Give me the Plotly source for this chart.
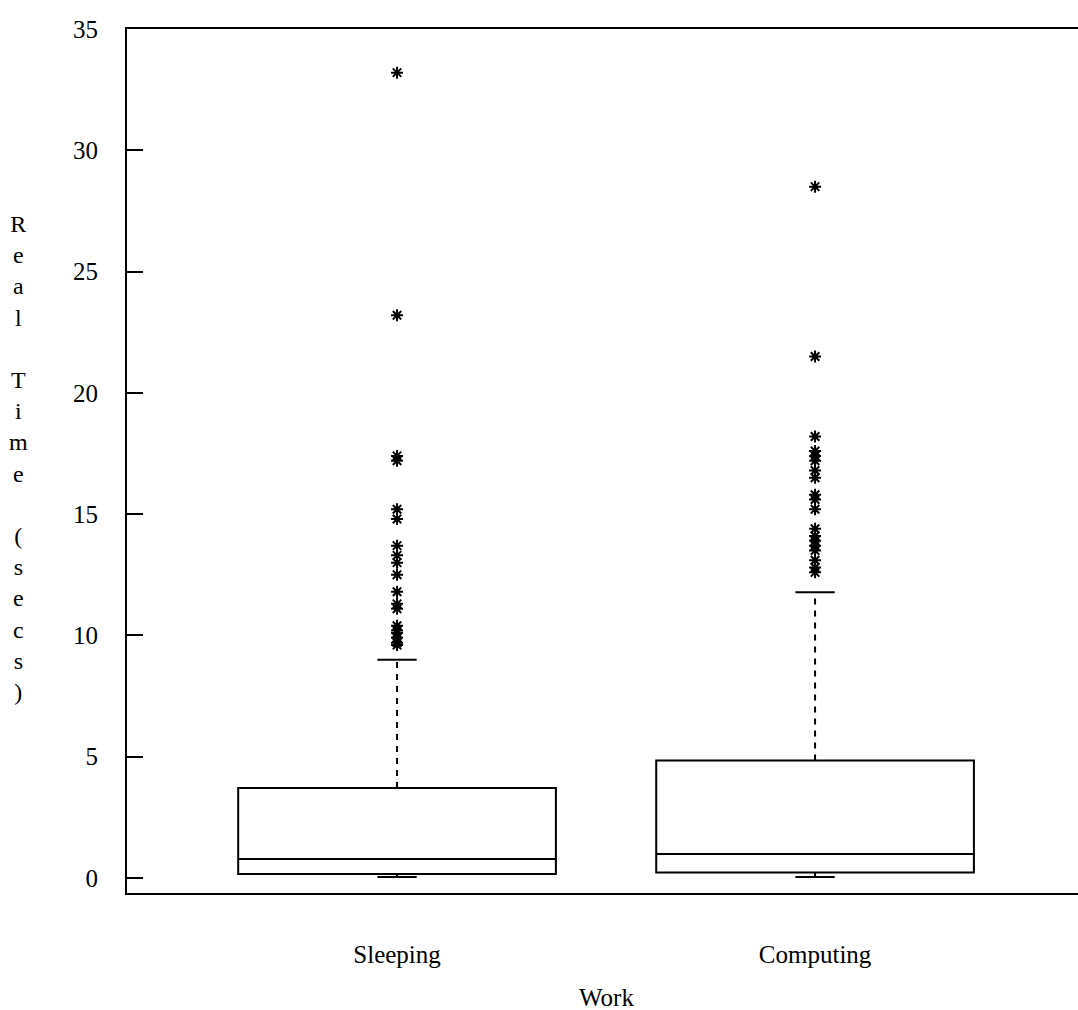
import plotly.graph_objects as go

# Response time summary by workload
categories = ["Sleeping", "Computing"]
q1 = [0.16, 0.23]
median = [0.78, 0.99]
q3 = [3.71, 4.84]
lower_fence = [0.04, 0.04]
upper_fence = [9.0, 11.78]

sleeping_outliers = [33.2, 23.2, 17.4, 17.2, 15.2, 14.8, 13.7, 13.3, 13.0, 12.5,
                     11.8, 11.3, 11.1, 10.4, 10.2, 10.1, 9.9, 9.7, 9.6]
computing_outliers = [28.5, 21.5, 18.2, 17.6, 17.4, 17.2, 16.8, 16.5, 15.8, 15.6,
                      15.2, 14.4, 14.1, 13.9, 13.7, 13.5, 13.1, 12.8, 12.6]
outliers = [sleeping_outliers, computing_outliers]

y_ticks = [0, 5, 10, 15, 20, 25, 30, 35]

FONT = "Liberation Serif"
FONT_SIZE = 25
BLACK = "#000000"
BOX_WIDTH = 0.76
CAP_HALF = 0.047

fig = go.Figure()

for i, name in enumerate(categories):
    # box body with the median line
    fig.add_trace(go.Box(
        x=[i], q1=[q1[i]], median=[median[i]], q3=[q3[i]],
        lowerfence=[q1[i]], upperfence=[q3[i]],
        width=BOX_WIDTH, whiskerwidth=0,
        fillcolor="white", line=dict(color=BLACK, width=2),
        boxpoints=False, hoverinfo="skip", showlegend=False,
    ))
    # dashed upper whisker
    fig.add_trace(go.Scatter(
        x=[i, i], y=[q3[i], upper_fence[i]], mode="lines",
        line=dict(color=BLACK, width=2, dash="6px,6px"),
        hoverinfo="skip", showlegend=False,
    ))
    # short lower whisker
    fig.add_trace(go.Scatter(
        x=[i, i], y=[q1[i], lower_fence[i]], mode="lines",
        line=dict(color=BLACK, width=2),
        hoverinfo="skip", showlegend=False,
    ))
    # whisker caps
    for v in (upper_fence[i], lower_fence[i]):
        fig.add_trace(go.Scatter(
            x=[i - CAP_HALF, i + CAP_HALF], y=[v, v], mode="lines",
            line=dict(color=BLACK, width=2),
            hoverinfo="skip", showlegend=False,
        ))
    # outlying observations
    fig.add_trace(go.Scatter(
        x=[i] * len(outliers[i]), y=outliers[i], mode="markers",
        marker=dict(symbol="asterisk-open", size=10, color=BLACK,
                    line=dict(color=BLACK, width=2)),
        hoverinfo="skip", showlegend=False,
    ))

fig.update_layout(
    width=1078, height=1010,
    margin=dict(l=127, r=0, t=29, b=117),
    paper_bgcolor="white", plot_bgcolor="white",
    font=dict(family=FONT, size=FONT_SIZE, color=BLACK),
    showlegend=False,
    xaxis=dict(
        range=[-0.646, 1.629],
        tickvals=[0, 1], ticktext=categories,
        ticks="", showgrid=False, zeroline=False,
        showline=True, mirror=True, linecolor=BLACK, linewidth=2,
        ticklabelstandoff=38,
        tickfont=dict(family=FONT, size=FONT_SIZE),
    ),
    yaxis=dict(
        range=[-0.62, 35],
        tickvals=y_ticks, ticktext=[str(t) for t in y_ticks],
        ticks="inside", ticklen=16, tickwidth=2, tickcolor=BLACK,
        showgrid=False, zeroline=False,
        showline=True, mirror=False, linecolor=BLACK, linewidth=2,
        ticklabelstandoff=22,
        tickfont=dict(family=FONT, size=FONT_SIZE),
    ),
    annotations=[
        dict(
            text="<br>".join(list("Real")) + "<br><br>" + "<br>".join(list("Time"))
                 + "<br><br>" + "<br>".join(list("(secs)")),
            xref="paper", yref="paper", x=-0.1146, y=0.503,
            xanchor="center", yanchor="middle", showarrow=False,
            font=dict(family=FONT, size=FONT_SIZE - 1, color=BLACK), align="center",
        ),
        dict(
            text="Work", xref="paper", yref="paper", x=0.5047, y=-0.121,
            xanchor="center", yanchor="middle", showarrow=False,
            font=dict(family=FONT, size=FONT_SIZE, color=BLACK),
        ),
    ],
)

fig.write_html("out.html")
